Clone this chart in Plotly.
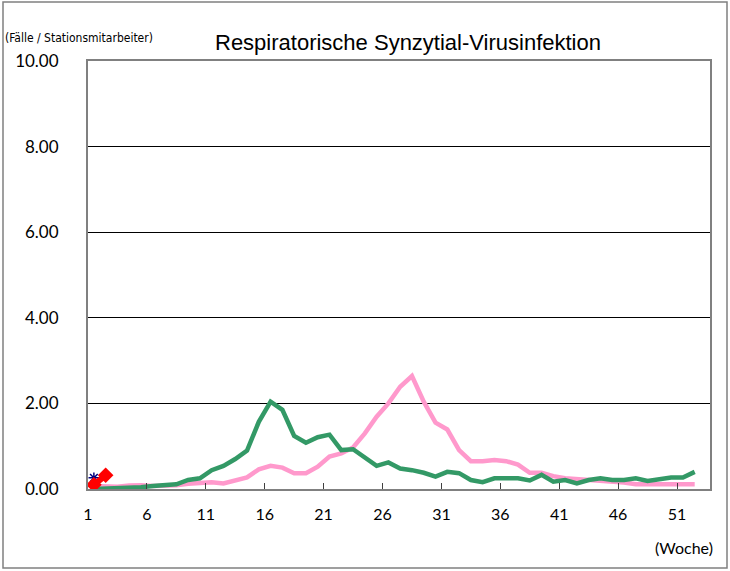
import plotly.graph_objects as go

weeks = list(range(1, 53))
season_green = [0.00, 0.01, 0.01, 0.02, 0.04, 0.07, 0.10, 0.11, 0.21, 0.25,
                0.44, 0.54, 0.70, 0.90, 1.57, 2.04, 1.85, 1.24, 1.08, 1.21,
                1.27, 0.91, 0.93, 0.72, 0.54, 0.62, 0.48, 0.44, 0.38, 0.29,
                0.40, 0.37, 0.21, 0.16, 0.25, 0.25, 0.25, 0.20, 0.33, 0.17,
                0.21, 0.13, 0.21, 0.25, 0.21, 0.21, 0.25, 0.19, 0.24, 0.27,
                0.27, 0.40]
season_pink = [0.07, 0.05, 0.05, 0.08, 0.09, 0.07, 0.07, 0.09, 0.12, 0.15,
               0.16, 0.13, 0.19, 0.27, 0.46, 0.54, 0.50, 0.37, 0.37, 0.52,
               0.76, 0.83, 0.97, 1.30, 1.69, 2.00, 2.39, 2.64, 2.04, 1.55,
               1.39, 0.91, 0.65, 0.65, 0.68, 0.65, 0.57, 0.38, 0.38, 0.30,
               0.25, 0.23, 0.21, 0.21, 0.17, 0.15, 0.11, 0.11, 0.11, 0.11,
               0.11, 0.11]
current_weeks = [1, 2]
current_red = [0.10, 0.32]
blue_weeks = [1]
blue_vals = [0.26]

x_tick_weeks = [1, 6, 11, 16, 21, 26, 31, 36, 41, 46, 51]
y_ticks = [0, 2, 4, 6, 8, 10]

# points sit at the centre of each week's slot; labels sit on slot boundaries
offset = 0.5

fig = go.Figure()
fig.add_trace(go.Scatter(x=[w + offset for w in weeks], y=season_pink, mode="lines",
                         line=dict(color="#FF99CC", width=4.5), showlegend=False))
fig.add_trace(go.Scatter(x=[w + offset for w in weeks], y=season_green, mode="lines",
                         line=dict(color="#339966", width=4.5), showlegend=False))
fig.add_trace(go.Scatter(x=[w + offset for w in blue_weeks], y=blue_vals, mode="markers",
                         marker=dict(symbol="asterisk", color="#000080", size=9,
                                     line=dict(color="#000080", width=1.5)),
                         showlegend=False))
fig.add_trace(go.Scatter(x=[w + offset for w in current_weeks], y=current_red, mode="lines+markers",
                         line=dict(color="#FF0000", width=6),
                         marker=dict(symbol="diamond", color="#FF0000", size=12),
                         showlegend=False))

L, R, T, B = 88, 20, 61, 82
W, H = 730, 571
pw, ph = W - L - R, H - T - B

narrow = "DejaVu Sans Condensed, Liberation Sans Narrow, Arial Narrow, Liberation Sans, sans-serif"

fig.update_layout(
    width=W, height=H,
    margin=dict(l=L, r=R, t=T, b=B, autoexpand=False),
    paper_bgcolor="white", plot_bgcolor="white",
    font=dict(family="Lato, DejaVu Sans, sans-serif", color="black"),
    title=dict(text="Respiratorische Synzytial-Virusinfektion",
               x=408 / W, xanchor="center", y=1 - 42 / H, yanchor="middle",
               font=dict(family="Liberation Sans, sans-serif", size=22, color="black")),
    xaxis=dict(range=[1, 53.8], tickvals=x_tick_weeks, ticktext=[str(w) for w in x_tick_weeks],
               ticks="inside", ticklen=6, tickcolor="#404040", tickwidth=1,
               showgrid=False, zeroline=False, automargin=False,
               showline=True, linecolor="#808080", linewidth=2, mirror=True,
               tickfont=dict(size=16), ticklabelstandoff=10),
    yaxis=dict(range=[0, 10], tickvals=y_ticks, ticktext=[f"{v:.2f}" for v in y_ticks],
               showgrid=True, gridcolor="black", gridwidth=1, zeroline=False, automargin=False,
               showline=True, linecolor="#808080", linewidth=2, mirror=True,
               ticks="", tickfont=dict(size=17), ticklabelstandoff=24),
)

fig.add_annotation(text="(Fälle / Stationsmitarbeiter)", xref="paper", yref="paper",
                   x=(3 - L) / pw, y=(H - B - 38) / ph, xanchor="left", yanchor="middle",
                   showarrow=False, font=dict(family=narrow, size=12, color="black"))
fig.add_annotation(text="(Woche)", xref="paper", yref="paper",
                   x=(715 - L) / pw, y=(H - B - 547) / ph, xanchor="right", yanchor="middle",
                   showarrow=False, font=dict(size=16, color="black"))

fig.add_shape(type="rect", xref="paper", yref="paper",
              x0=(3 - L) / pw, x1=(727 - L) / pw,
              y0=(H - B - 568) / ph, y1=(H - B - 2) / ph,
              line=dict(color="#808080", width=1.5), layer="below")

fig.write_html("out.html", config={"displayModeBar": False},
               post_script="document.body.style.margin='0';")
